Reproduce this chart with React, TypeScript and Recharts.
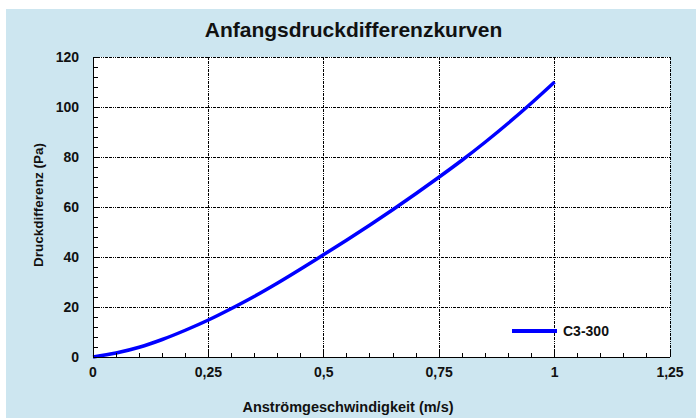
import React from 'react';
import { LineChart, Line, XAxis, YAxis, CartesianGrid, Legend } from 'recharts';

const speeds = [0, 0.05, 0.1, 0.15, 0.2, 0.25, 0.3, 0.35, 0.4, 0.45, 0.5, 0.55, 0.6, 0.65, 0.7, 0.75, 0.8, 0.85, 0.9, 0.95, 1.0];
const pressures = [0, 1.6, 3.9, 7.0, 10.7, 14.8, 19.4, 24.3, 29.6, 35.2, 41.0, 46.8, 52.8, 59.0, 65.4, 72.0, 78.8, 86.0, 93.6, 101.6, 110.0];
const seriesName = 'C3-300';

const xMajorTicks = [0, 0.25, 0.5, 0.75, 1, 1.25];
const xMinorTicks = [0, 0.05, 0.1, 0.15, 0.2, 0.25, 0.3, 0.35, 0.4, 0.45, 0.5, 0.55, 0.6, 0.65, 0.7, 0.75, 0.8, 0.85, 0.9, 0.95, 1, 1.05, 1.1, 1.15, 1.2, 1.25];
const yMajorTicks = [0, 20, 40, 60, 80, 100, 120];
const yMinorTicks = [0, 4, 8, 12, 16, 20, 24, 28, 32, 36, 40, 44, 48, 52, 56, 60, 64, 68, 72, 76, 80, 84, 88, 92, 96, 100, 104, 108, 112, 116, 120];

const title = 'Anfangsdruckdifferenzkurven';
const xLabel = 'Anströmgeschwindigkeit (m/s)';
const yLabel = 'Druckdifferenz (Pa)';

const data = speeds.map((v, i) => ({ v, p: pressures[i] }));

const FONT = '"Liberation Sans", Arial, sans-serif';
const isMajor = (list: number[], v: number) => list.some((t) => Math.abs(t - v) < 1e-6);
const fmt = (v: number) => String(v).replace('.', ',');

const XTick = (props: any) => {
  const { x, y, payload } = props;
  const v = payload.value;
  const major = isMajor(xMajorTicks, v);
  return (
    <g>
      <line x1={x} y1={y} x2={x} y2={y - (major ? 7 : 4)} stroke="#000" strokeWidth={1} shapeRendering="crispEdges" />
      {major && (
        <text x={x} y={y + 20} textAnchor="middle" fontFamily={FONT} fontWeight="bold" fontSize={14} fill="#111">
          {fmt(v)}
        </text>
      )}
    </g>
  );
};

const YTick = (props: any) => {
  const { x, y, payload } = props;
  const v = payload.value;
  const major = isMajor(yMajorTicks, v);
  return (
    <g>
      <line x1={x} y1={y} x2={x + (major ? 7 : 5)} y2={y} stroke="#000" strokeWidth={1} shapeRendering="crispEdges" />
      {major && (
        <text x={x - 14} y={y + 5} textAnchor="end" fontFamily={FONT} fontWeight="bold" fontSize={14} fill="#111">
          {fmt(v)}
        </text>
      )}
    </g>
  );
};

const LegendContent = () => (
  <div style={{ display: 'flex', alignItems: 'center', height: 18, fontFamily: FONT, fontWeight: 'bold', fontSize: 14, color: '#111' }}>
    <span style={{ display: 'inline-block', width: 45, height: 4, background: '#0000ff' }} />
    <span style={{ marginLeft: 6, whiteSpace: 'nowrap' }}>{seriesName}</span>
  </div>
);

export default function App() {
  return (
    <div style={{ position: 'absolute', left: 6, top: 9, width: 690, height: 409, background: '#cde6f0' }}>
      <LineChart width={690} height={409} data={data} margin={{ top: 48, right: 26, bottom: 31, left: 27 }}>
        <CartesianGrid
          xAxisId="gridx"
          yAxisId="gridy"
          fill="#ffffff"
          fillOpacity={1}
          stroke="#000"
          strokeDasharray="3 1 3 1 1 1 1 1"
          shapeRendering="crispEdges"
        />
        <XAxis xAxisId="gridx" dataKey="v" type="number" domain={[0, 1.25]} ticks={xMajorTicks} interval={0} hide />
        <YAxis yAxisId="gridy" dataKey="p" type="number" domain={[0, 120]} ticks={yMajorTicks} interval={0} hide />
        <XAxis
          dataKey="v"
          type="number"
          domain={[0, 1.25]}
          ticks={xMinorTicks}
          interval={0}
          tickLine={false}
          axisLine={{ stroke: '#000', strokeWidth: 1, shapeRendering: 'crispEdges' }}
          tickSize={0}
          tickMargin={0}
          height={30}
          tick={<XTick />}
        />
        <YAxis
          type="number"
          domain={[0, 120]}
          ticks={yMinorTicks}
          interval={0}
          tickLine={false}
          axisLine={{ stroke: '#000', strokeWidth: 1, shapeRendering: 'crispEdges' }}
          tickSize={0}
          tickMargin={0}
          width={60}
          tick={<YTick />}
        />
        <Legend
          layout="horizontal"
          verticalAlign="middle"
          align="center"
          content={<LegendContent />}
          wrapperStyle={{ left: 506, top: 313, width: 120, height: 18 }}
        />
        <Line
          type="monotone"
          dataKey="p"
          name={seriesName}
          stroke="#0000ff"
          strokeWidth={3.5}
          dot={false}
          activeDot={false}
          isAnimationActive={false}
        />
      </LineChart>
      <svg width={690} height={409} style={{ position: 'absolute', left: 0, top: 0, pointerEvents: 'none' }}>
        <text x={347.5} y={28} textAnchor="middle" fontFamily={FONT} fontWeight="bold" fontSize={21} fill="#111">
          {title}
        </text>
        <text x={342} y={403} textAnchor="middle" fontFamily={FONT} fontWeight="bold" fontSize={14.5} fill="#111">
          {xLabel}
        </text>
        <text
          x={37}
          y={196}
          textAnchor="middle"
          transform="rotate(-90, 37, 196)"
          fontFamily={FONT}
          fontWeight="bold"
          fontSize={13.5}
          fill="#111"
        >
          {yLabel}
        </text>
      </svg>
    </div>
  );
}
